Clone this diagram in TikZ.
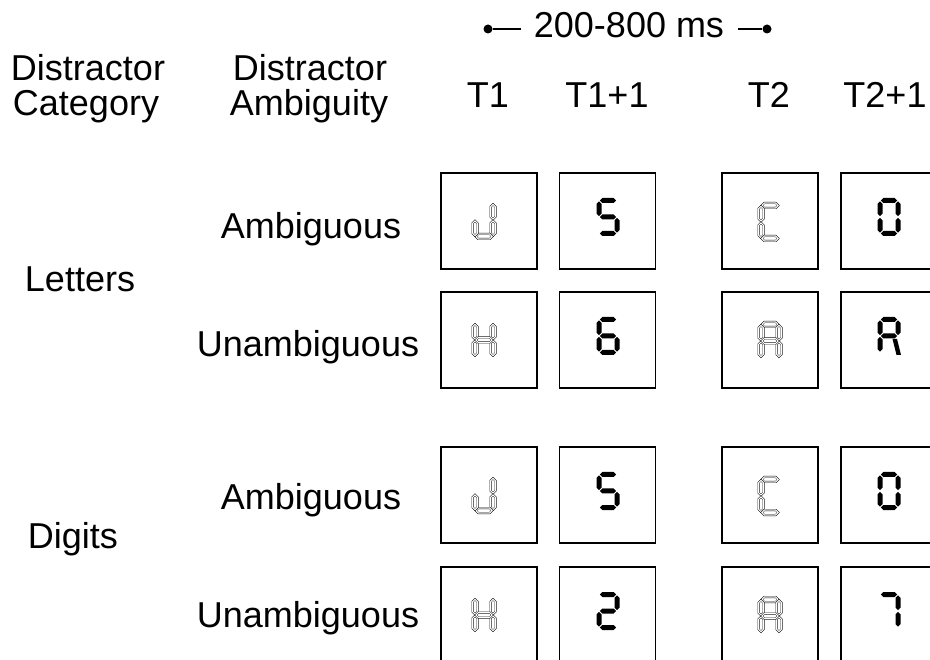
\documentclass[tikz,border=0pt]{standalone}
\usepackage{fontspec}
\setmainfont{Liberation Sans}
\newcommand\Sega[1]{\path[#1] (-8.2,-16.5) -- (-5.7,-19) -- (5.7,-19) -- (8.2,-16.5) -- (5.7,-14) -- (-5.7,-14) -- cycle;}
\newcommand\Segg[1]{\path[#1] (-8.2,0) -- (-5.7,-2.5) -- (5.7,-2.5) -- (8.2,0) -- (5.7,2.5) -- (-5.7,2.5) -- cycle;}
\newcommand\Segd[1]{\path[#1] (-8.2,16.5) -- (-5.7,14) -- (5.7,14) -- (8.2,16.5) -- (5.7,19) -- (-5.7,19) -- cycle;}
\newcommand\Segf[1]{\path[#1] (-9,-15.7) -- (-6.5,-13.2) -- (-6.5,-3.3) -- (-9,-0.8) -- (-11.5,-3.3) -- (-11.5,-13.2) -- cycle;}
\newcommand\Segb[1]{\path[#1] (9,-15.7) -- (11.5,-13.2) -- (11.5,-3.3) -- (9,-0.8) -- (6.5,-3.3) -- (6.5,-13.2) -- cycle;}
\newcommand\Sege[1]{\path[#1] (-9,0.8) -- (-6.5,3.3) -- (-6.5,13.2) -- (-9,15.7) -- (-11.5,13.2) -- (-11.5,3.3) -- cycle;}
\newcommand\Segc[1]{\path[#1] (9,0.8) -- (11.5,3.3) -- (11.5,13.2) -- (9,15.7) -- (6.5,13.2) -- (6.5,3.3) -- cycle;}
\newcommand\Segr[1]{\path[#1] (3.5,2.8) -- (8,2.8) -- (12,19) -- (7.5,19) -- cycle;}
\newcommand\glyph[3]{\begin{scope}[shift={#1}]\foreach \s in {#3}{\csname Seg\s\endcsname{#2}}\end{scope}}
\tikzset{
  lbl/.style={font=\fontsize{36}{40}\selectfont, inner sep=0pt, anchor=base},
  box/.style={draw, line width=1.8pt, minimum size=96pt, inner sep=0pt},
  lit/.style={fill=black},
  unlit/.style={draw=black, double=white, double distance=1.1pt, line width=0.45pt, fill=white, line join=miter},
  dotn/.style={circle, fill=black, inner sep=0pt, minimum size=9pt},
  conn/.style={line width=1.6pt}
}
\begin{document}
\begin{tikzpicture}[x=1pt, y=-1pt]
\useasboundingbox (0,0) rectangle (930,660);
\clip (0,0) rectangle (930,660);
% header
\node[lbl] (ms) at (629,38) {200-800 ms};
\node[dotn] (dl) at (488,29) {};
\coordinate (le) at (521,29);
\coordinate (rs) at (738,29);
\node[dotn] (dr) at (767,29) {};
\draw[conn] (dl) -- (le);
\draw[conn] (rs) -- (dr);
\node[lbl] (dc1) at (88,81) {Distractor};
\node[lbl] (dc2) at (86,116) {Category};
\node[lbl] (da1) at (310,81) {Distractor};
\node[lbl] (da2) at (309,116) {Ambiguity};
\node[lbl] (t1) at (488,108) {T1};
\node[lbl] (t1p) at (607,108) {T1+1};
\node[lbl] (t2) at (769,108) {T2};
\node[lbl] (t2p) at (885,108) {T2+1};
% row labels
\node[lbl] (let) at (80,292) {Letters};
\node[lbl] (dig) at (73,548) {Digits};
\node[lbl] (ra1) at (311,239) {Ambiguous};
\node[lbl] (ru2) at (308,357) {Unambiguous};
\node[lbl] (ra3) at (311,510) {Ambiguous};
\node[lbl] (ru4) at (308,627) {Unambiguous};
% boxes
\foreach \r/\y in {1/221,2/340,3/495,4/615}{
  \node[box] (b\r a) at (489,\y) {};
  \node[box] (b\r b) at (607.5,\y) {};
  \node[box] (b\r c) at (770,\y) {};
  \node[box] (b\r d) at (889,\y) {};
}
% glyphs row 1
\glyph{(484,220)}{unlit}{b,c,d,e}
\glyph{(608,217)}{lit}{a,f,g,c,d}
\glyph{(770,222)}{unlit}{a,f,e,d}
\glyph{(889,217)}{lit}{a,b,c,d,e,f}
% row 2
\glyph{(484,340)}{unlit}{b,c,e,f,g}
\glyph{(608,336)}{lit}{a,f,g,e,c,d}
\glyph{(770,341)}{unlit}{a,b,c,e,f,g}
\glyph{(889,336)}{lit}{a,b,f,g,e,r}
% row 3
\glyph{(484,494)}{unlit}{b,c,d,e}
\glyph{(608,491)}{lit}{a,f,g,c,d}
\glyph{(770,496)}{unlit}{a,f,e,d}
\glyph{(889,491)}{lit}{a,b,c,d,e,f}
% row 4
\glyph{(484,615)}{unlit}{b,c,e,f,g}
\glyph{(608,611)}{lit}{a,b,g,e,d}
\glyph{(770,616)}{unlit}{a,b,c,e,f,g}
\glyph{(889,611)}{lit}{a,b,c}
\end{tikzpicture}
\end{document}
